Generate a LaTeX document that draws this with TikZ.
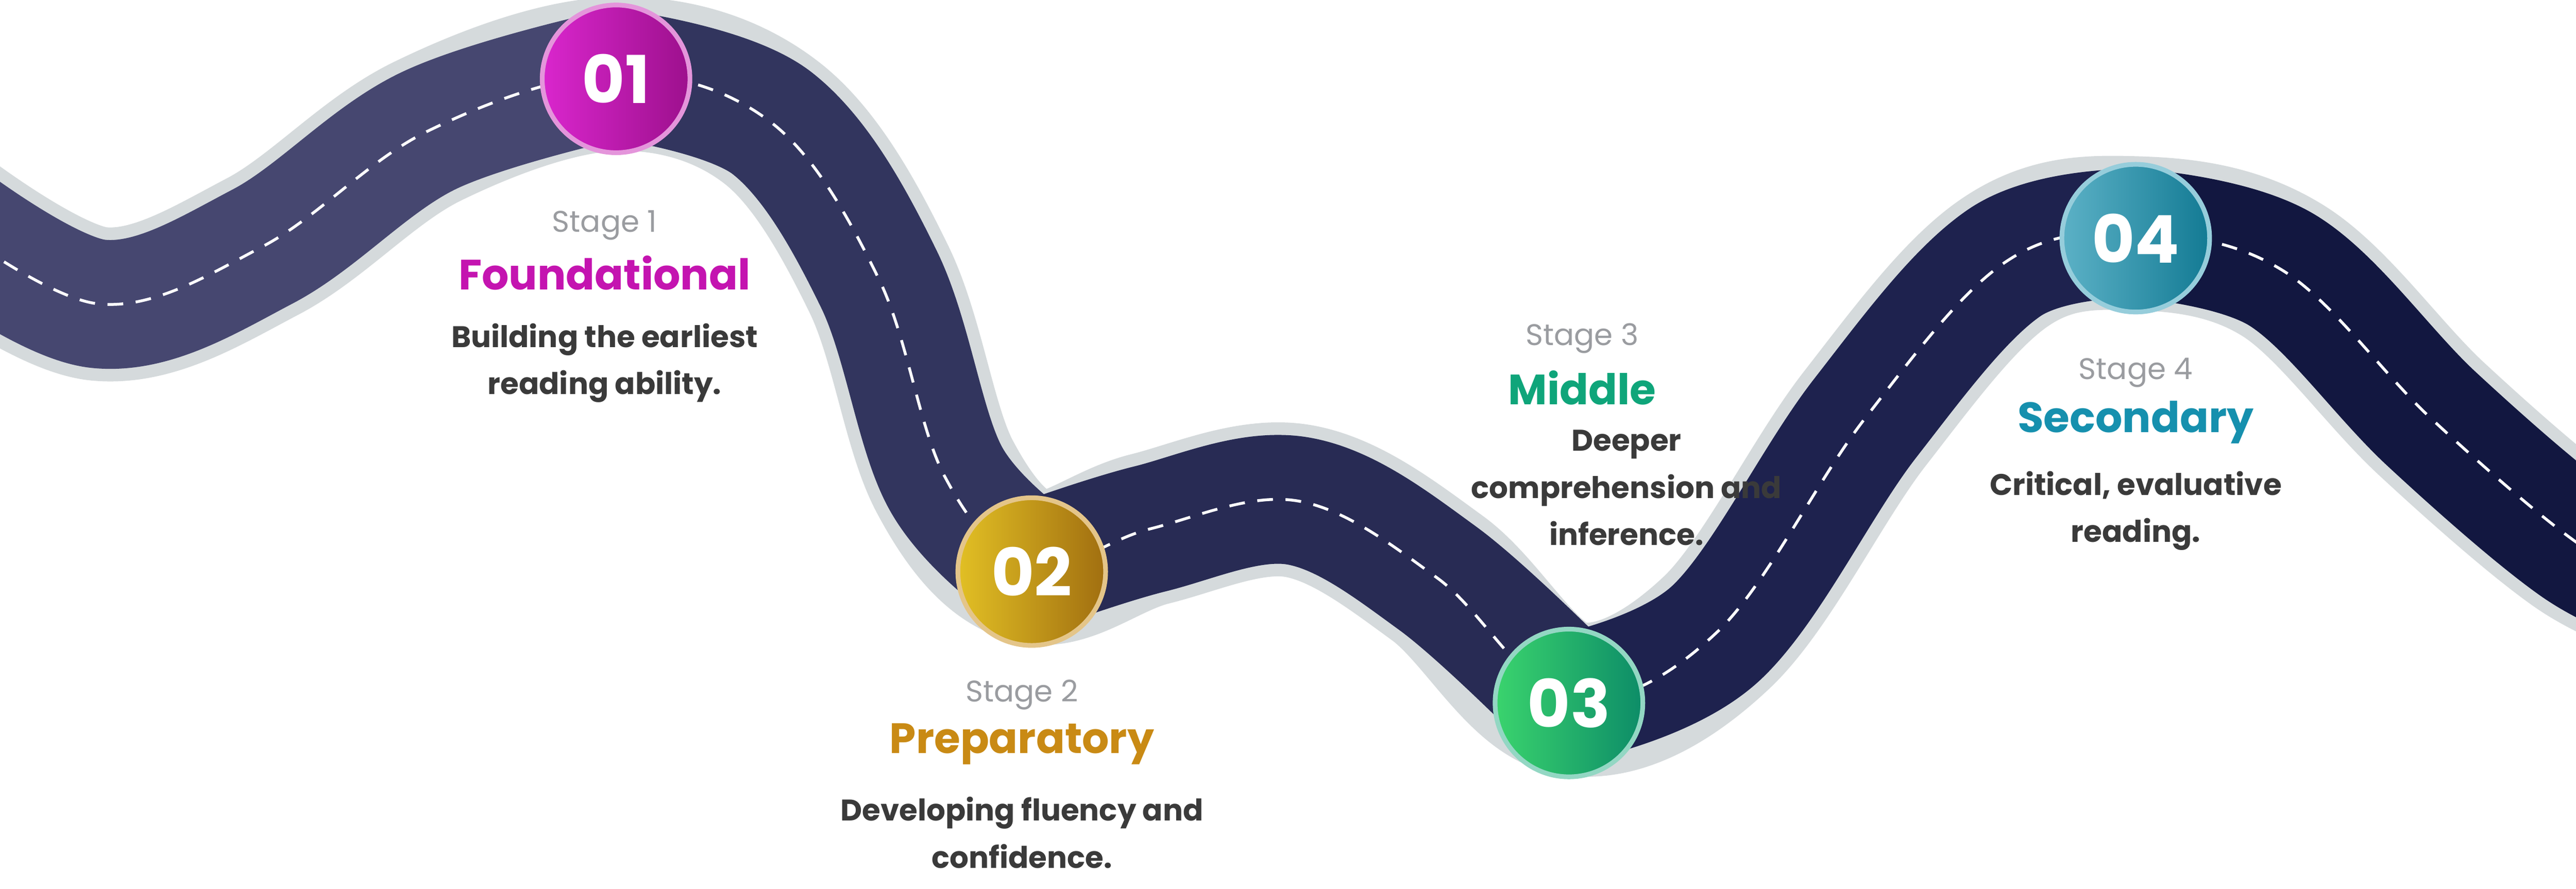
\documentclass[tikz,border=0pt]{standalone}
\usepackage{fontspec}
\setmainfont{Poppins}
\usetikzlibrary{positioning}
\definecolor{roadedge}{HTML}{D5DADC}
\definecolor{stagegray}{HTML}{9A9CA0}
\definecolor{desctext}{HTML}{3A3A3A}
\definecolor{cOne}{HTML}{C414B0}
\definecolor{cTwo}{HTML}{C98A14}
\definecolor{cThree}{HTML}{0FA57A}
\definecolor{cFour}{HTML}{1690AE}
\tikzset{
  road/.style={line width=41pt, line cap=round},
  stop/.style={circle, minimum size=47pt, inner sep=0pt, text=white,
    font=\fontsize{21}{21}\selectfont\bfseries, shading angle=45},
  stage/.style={text=stagegray, font=\fontsize{9.5}{10}\selectfont},
  title/.style={font=\fontsize{13.5}{14}\selectfont\bfseries},
  desc/.style={text=desctext, align=center, font=\fontsize{9.5}{15}\selectfont\bfseries}
}
\begin{document}
\begin{tikzpicture}[x=0.018367cm, y=-0.018367cm]
	\useasboundingbox (0,0) rectangle (1568,541);
	%road border
	\draw[line width=49pt, roadedge] plot[smooth, tension=0.6] coordinates {(-40,130) (60,185) (160,150) (260,80) (375,45) (470,75) (535,170) (575,290) (628,345) (700,322) (790,305) (875,352) (955,425) (1045,385) (1135,255) (1220,160) (1300,142) (1390,165) (1480,255) (1568,330) (1620,355)};
	%road pieces
	\draw[road, color={rgb,255:red,70;green,71;blue,112}] plot[smooth, tension=0.6] coordinates {(-40,130) (60,185) (160,150) (260,80) (375,45)};
	\draw[road, color={rgb,255:red,50;green,53;blue,94}] plot[smooth, tension=0.6] coordinates {(375,45) (470,75) (535,170) (575,290) (628,345)};
	\draw[road, color={rgb,255:red,40;green,43;blue,84}] plot[smooth, tension=0.6] coordinates {(628,345) (700,322) (790,305) (875,352) (955,425)};
	\draw[road, color={rgb,255:red,30;green,34;blue,78}] plot[smooth, tension=0.6] coordinates {(955,425) (1045,385) (1135,255) (1220,160) (1300,142)};
	\draw[road, color={rgb,255:red,18;green,23;blue,64}] plot[smooth, tension=0.6] coordinates {(1300,142) (1390,165) (1480,255) (1568,330) (1620,355)};
	%lane marks
	\draw[white, line width=0.9pt, dash pattern=on 5pt off 4pt] plot[smooth, tension=0.6] coordinates {(-40,130) (60,185) (160,150) (260,80) (375,45) (470,75) (535,170) (575,290) (628,345) (700,322) (790,305) (875,352) (955,425) (1045,385) (1135,255) (1220,160) (1300,142) (1390,165) (1480,255) (1568,330) (1620,355)};
	%stops
	\node[stop, draw=cOne!45!white, line width=1.5pt, left color=cOne!70!magenta!90!white, right color=cOne!80!black] (s1) at (375,48) {01};
	\node[stop, draw=cTwo!50!white, line width=1.5pt, left color=cTwo!60!yellow!90!white, right color=cTwo!80!black] (s2) at (628,348) {02};
	\node[stop, draw=cThree!45!white, line width=1.5pt, left color=cThree!60!green!80!white, right color=cThree!85!black] (s3) at (955,428) {03};
	\node[stop, draw=cFour!45!white, line width=1.5pt, left color=cFour!70!white, right color=cFour!85!black] (s4) at (1300,145) {04};
	%labels
	\node[stage] (st1) at (368,137) {Stage 1};
	\node[title, text=cOne] (t1) at (368,166) {Foundational};
	\node[desc] (d1) at (368,221) {Building the earliest\\reading ability.};
	\node[stage] (st2) at (622,423) {Stage 2};
	\node[title, text=cTwo] (t2) at (622,453) {Preparatory};
	\node[desc] (d2) at (622,507) {Developing fluency and\\confidence.};
	\node[stage] (st3) at (963,206) {Stage 3};
	\node[title, text=cThree] (t3) at (963,236) {Middle};
	\node[desc] (d3) at (990,297) {Deeper\\comprehension and\\inference.};
	\node[stage] (st4) at (1300,227) {Stage 4};
	\node[title, text=cFour] (t4) at (1300,257) {Secondary};
	\node[desc] (d4) at (1300,311) {Critical, evaluative\\reading.};
\end{tikzpicture}
\end{document}
